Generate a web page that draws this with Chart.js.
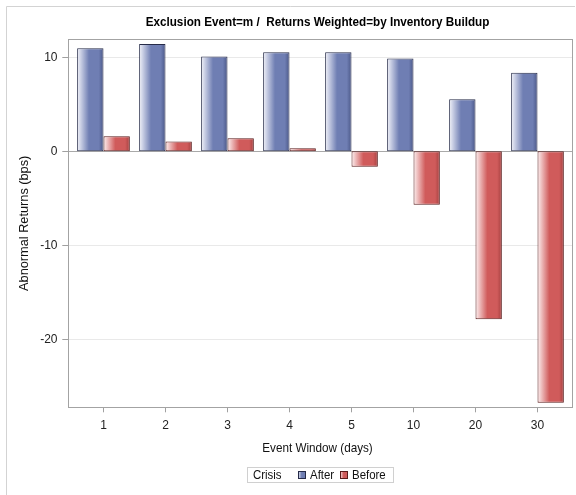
<!DOCTYPE html>
<html>
<head>
<meta charset="utf-8">
<script src="https://cdn.jsdelivr.net/npm/chart.js@4.4.1/dist/chart.umd.min.js"></script>
<style>
html,body{margin:0;padding:0;background:#fff;}
canvas{display:block;}
</style>
</head>
<body>
<canvas id="c" width="576" height="495"></canvas>
<script>
const titleText = 'Exclusion Event=m /  Returns Weighted=by Inventory Buildup';
const xAxisTitle = 'Event Window (days)';
const yAxisTitle = 'Abnormal Returns (bps)';
const legendTitle = 'Crisis';
const categories = ['1', '2', '3', '4', '5', '10', '20', '30'];
const seriesNames = ['After', 'Before'];
const afterValues = [10.96, 11.41, 10.10, 10.53, 10.53, 9.89, 5.53, 8.36];
const beforeValues = [1.60, 1.06, 1.38, 0.32, -1.64, -5.68, -17.87, -26.74];
const yTicks = [-20, -10, 0, 10];

const FONT = '"Liberation Sans", Arial, sans-serif';
const CAT_PCT = 0.85;
const FRAME_PAD = 4.2;

const palette = {
  After: {light: '#f2f3fa', main: '#6f7eb3', dark: '#4b5888', border: '#262b48'},
  Before: {light: '#fdf1f1', main: '#d05b5b', dark: '#a44040', border: '#5a1c1c'}
};

function makeGrad(ctx, x0, x1, p) {
  const g = ctx.createLinearGradient(x0, 0, x1, 0);
  g.addColorStop(0, p.light);
  g.addColorStop(0.45, p.main);
  g.addColorStop(0.82, p.main);
  g.addColorStop(1, p.dark);
  return g;
}

function barFill(dsIndex) {
  return function (c) {
    const chart = c.chart;
    const p = palette[seriesNames[dsIndex]];
    const xs = chart.scales && chart.scales.x;
    if (!chart.chartArea || !xs || c.dataIndex === undefined) return p.main;
    const center = xs.getPixelForValue(c.dataIndex);
    const catW = xs.width / categories.length;
    const bw = catW * CAT_PCT / 2;
    const left = dsIndex === 0 ? center - bw : center;
    return makeGrad(chart.ctx, left, left + bw, p);
  };
}

function condensedText(ctx, text, x, y, align, sx) {
  ctx.save();
  ctx.translate(x, y);
  ctx.scale(sx, 1);
  ctx.textAlign = align;
  ctx.fillText(text, 0, 0);
  ctx.restore();
}

const framePlugin = {
  id: 'framePlugin',
  beforeDatasetsDraw(chart) {
    const {ctx, chartArea} = chart;
    const ys = chart.scales.y;
    const L = chartArea.left - FRAME_PAD, R = chartArea.right + FRAME_PAD;
    ctx.save();
    yTicks.forEach(v => {
      const y = Math.round(ys.getPixelForValue(v)) + 0.5;
      ctx.strokeStyle = v === 0 ? '#a9a9a9' : '#e9e9e9';
      ctx.lineWidth = 1;
      ctx.beginPath();
      ctx.moveTo(L, y); ctx.lineTo(R, y); ctx.stroke();
      ctx.strokeStyle = '#a0a0a0';
      ctx.beginPath();
      ctx.moveTo(L - 6, y); ctx.lineTo(L, y); ctx.stroke();
    });
    ctx.restore();
  },
  afterDatasetsDraw(chart) {
    const {ctx, chartArea} = chart;
    const L = chartArea.left - FRAME_PAD, R = chartArea.right + FRAME_PAD;
    ctx.save();
    ctx.strokeStyle = '#a3a3a3';
    ctx.lineWidth = 1;
    ctx.strokeRect(Math.round(L) + 0.5, Math.round(chartArea.top) + 0.5,
                   Math.round(R - L), Math.round(chartArea.bottom - chartArea.top));
    ctx.strokeStyle = '#d3d3d3';
    ctx.beginPath();
    ctx.moveTo(6.5, 495); ctx.lineTo(6.5, 6.5); ctx.lineTo(575, 6.5);
    ctx.stroke();
    const cx = (L + R) / 2 - 3;
    ctx.fillStyle = '#000';
    ctx.textBaseline = 'middle';
    ctx.font = 'bold 13px ' + FONT;
    condensedText(ctx, titleText, cx, 22, 'center', 0.9);
    ctx.font = '13px ' + FONT;
    ctx.fillStyle = '#111';
    condensedText(ctx, xAxisTitle, cx, 448, 'center', 0.9);
    ctx.save();
    ctx.translate(24, (chartArea.top + chartArea.bottom) / 2);
    ctx.rotate(-Math.PI / 2);
    condensedText(ctx, yAxisTitle, 0, 0, 'center', 0.98);
    ctx.restore();
    // legend
    ctx.strokeStyle = '#d0d0d0';
    ctx.strokeRect(247.5, 467.5, 146, 15);
    ctx.font = '13px ' + FONT;
    ctx.fillStyle = '#111';
    condensedText(ctx, legendTitle, 253, 475.5, 'left', 0.88);
    const items = [{x: 298, tx: 310}, {x: 340, tx: 352}];
    seriesNames.forEach((n, i) => {
      const p = palette[n];
      const it = items[i];
      ctx.fillStyle = makeGrad(ctx, it.x, it.x + 8, p);
      ctx.fillRect(it.x, 471, 8, 8);
      ctx.strokeStyle = p.border;
      ctx.strokeRect(it.x + 0.5, 471.5, 7, 7);
      ctx.fillStyle = '#111';
      condensedText(ctx, n, it.tx, 475.5, 'left', 0.88);
    });
    ctx.restore();
  }
};

new Chart(document.getElementById('c'), {
  type: 'bar',
  data: {
    labels: categories,
    datasets: [
      {label: seriesNames[0], data: afterValues, backgroundColor: barFill(0),
       borderColor: palette.After.border, borderWidth: 1, borderSkipped: false,
       categoryPercentage: CAT_PCT, barPercentage: 1.0},
      {label: seriesNames[1], data: beforeValues, backgroundColor: barFill(1),
       borderColor: palette.Before.border, borderWidth: 1, borderSkipped: false,
       categoryPercentage: CAT_PCT, barPercentage: 1.0}
    ]
  },
  options: {
    responsive: false,
    animation: false,
    events: [],
    layout: {padding: {left: 0, right: 7.5, top: 39.3, bottom: 0}},
    plugins: {legend: {display: false}, title: {display: false}, tooltip: {enabled: false}},
    scales: {
      x: {
        type: 'category',
        offset: true,
        border: {display: false},
        grid: {display: true, offset: false, drawOnChartArea: false, drawTicks: true, tickLength: 5,
               tickColor: '#a0a0a0', color: '#a0a0a0'},
        ticks: {color: '#222', font: {family: FONT, size: 12}, padding: 6, maxRotation: 0},
        afterFit(s) { s.height = 495 - 407.3; }
      },
      y: {
        min: -27.23,
        max: 11.92,
        border: {display: false},
        grid: {display: false, drawTicks: false},
        ticks: {stepSize: 10, includeBounds: false, color: '#222',
                font: {family: FONT, size: 12}, padding: 15,
                callback: v => yTicks.includes(v) ? String(v) : ''},
        afterFit(s) { s.width = 72.5; }
      }
    }
  },
  plugins: [framePlugin]
});
</script>
</body>
</html>
